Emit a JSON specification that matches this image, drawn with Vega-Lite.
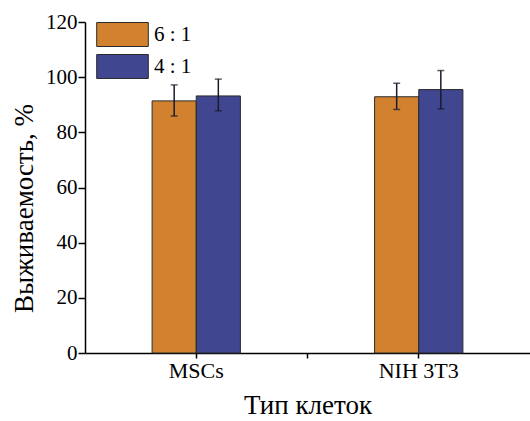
{
  "$schema": "https://vega.github.io/schema/vega-lite/v6.json",
  "width": 445,
  "height": 331,
  "autosize": {"type": "none"},
  "padding": {"left": 85, "top": 22, "right": 0, "bottom": 68},
  "background": "white",
  "config": {
    "view": {"stroke": null},
    "font": "Liberation Serif",
    "axis": {"labelFont": "Liberation Serif", "titleFont": "Liberation Serif", "labelColor": "black", "titleColor": "black", "domainColor": "black", "tickColor": "black", "titleFontWeight": "normal", "grid": false}
  },
  "data": {
    "values": [
      {"cell": "MSCs", "ratio": "6 : 1", "value": 91.4, "lo": 85.9, "hi": 97.2},
      {"cell": "MSCs", "ratio": "4 : 1", "value": 93.2, "lo": 87.8, "hi": 99.3},
      {"cell": "NIH 3T3", "ratio": "6 : 1", "value": 92.9, "lo": 88.3, "hi": 97.8},
      {"cell": "NIH 3T3", "ratio": "4 : 1", "value": 95.5, "lo": 88.5, "hi": 102.4}
    ]
  },
  "encoding": {
    "x": {
      "field": "cell", "type": "nominal",
      "scale": {"domain": ["MSCs", "·", "NIH 3T3"], "paddingInner": 0, "paddingOuter": 0.5},
      "axis": {
        "title": "Тип клеток", "titleFontSize": 27, "titlePadding": 11,
        "labelFontSize": 22, "labelAngle": 0, "labelPadding": 2,
        "labelExpr": "datum.value == '·' ? '' : datum.label",
        "tickSize": 5, "tickWidth": 1.5, "domainWidth": 1.5
      }
    },
    "xOffset": {"field": "ratio", "type": "nominal", "scale": {"domain": ["6 : 1", "4 : 1"], "paddingInner": 0, "paddingOuter": 0.26}}
  },
  "layer": [
    {
      "mark": {"type": "bar", "stroke": "#2a2a2a", "strokeWidth": 1},
      "encoding": {
        "y": {
          "field": "value", "type": "quantitative",
          "scale": {"domain": [0, 120], "nice": false},
          "axis": {
            "title": "Выживаемость, %", "titleFontSize": 27, "titleY": 186, "titlePadding": 7,
            "values": [0, 10, 20, 30, 40, 50, 60, 70, 80, 90, 100, 110, 120],
            "labelExpr": "datum.value % 20 == 0 ? datum.label : ''",
            "labelFontSize": 21, "labelPadding": 1,
            "tickSize": {"condition": {"test": "datum.value % 20 != 0", "value": 4}, "value": 7},
            "tickWidth": 1.5, "domainWidth": 1.5
          }
        },
        "color": {
          "field": "ratio", "type": "nominal",
          "scale": {"domain": ["6 : 1", "4 : 1"], "range": ["#D2822F", "#404690"]},
          "legend": {
            "title": null, "orient": "none", "legendX": 25, "legendY": 0,
            "symbolType": "M-2.15,-1H2.15V1H-2.15Z", "symbolSize": 576,
            "symbolStrokeColor": "#2a2a2a", "symbolStrokeWidth": 1, "symbolOpacity": 1,
            "labelFontSize": 21, "labelFont": "Liberation Serif", "labelColor": "black", "labelOffset": 19,
            "rowPadding": 3, "padding": 0
          }
        }
      }
    },
    {
      "mark": {"type": "rule", "color": "#1a1a2a", "strokeWidth": 1.5},
      "encoding": {"y": {"field": "lo", "type": "quantitative"}, "y2": {"field": "hi"}}
    },
    {
      "mark": {"type": "tick", "color": "#1a1a2a", "thickness": 1.5, "size": 7},
      "encoding": {"y": {"field": "lo", "type": "quantitative"}}
    },
    {
      "mark": {"type": "tick", "color": "#1a1a2a", "thickness": 1.5, "size": 7},
      "encoding": {"y": {"field": "hi", "type": "quantitative"}}
    }
  ]
}
